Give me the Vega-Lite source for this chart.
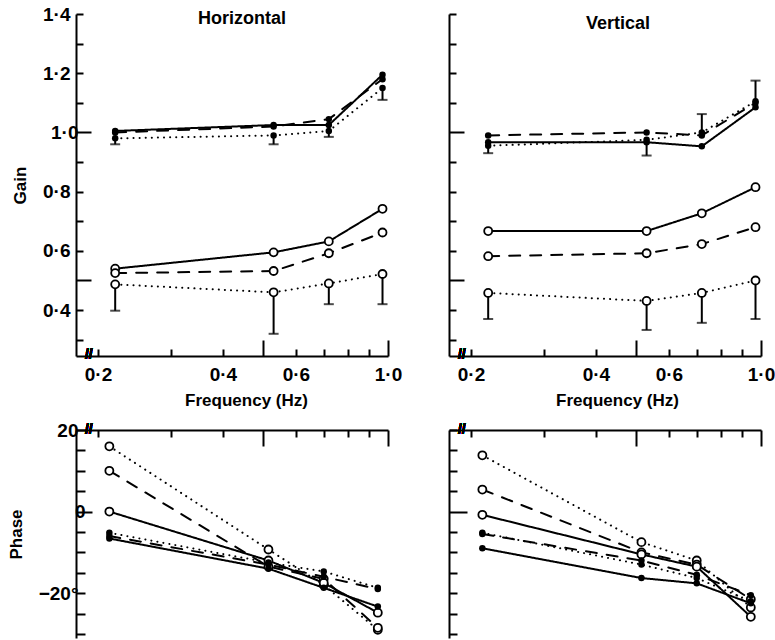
{
  "$schema": "https://vega.github.io/schema/vega-lite/v6.json",
  "background": "white",
  "padding": {"left": 7, "top": 5, "right": 0, "bottom": 0},
  "columns": 2,
  "bounds": "flush",
  "spacing": {"row": 74, "column": 61},
  "config": {
    "view": {"stroke": null},
    "font": "Liberation Sans",
    "axis": {
      "grid": false,
      "domainColor": "black",
      "domainWidth": 2,
      "tickColor": "black",
      "tickWidth": 2,
      "labelFont": "Liberation Sans",
      "labelFontWeight": "bold",
      "labelFontSize": 19,
      "labelColor": "black",
      "labelFlush": false,
      "labelOverlap": false,
      "titleFont": "Liberation Sans",
      "titleFontWeight": "bold",
      "titleFontSize": 17,
      "titleColor": "black"
    },
    "title": {"font": "Liberation Sans", "fontWeight": "bold", "fontSize": 18, "color": "black"}
  },
  "datasets": {
    "gain": [
      {"dir": "Horizontal", "marker": "filled", "line": "solid", "freq": 0.22, "gain": 1.005},
      {"dir": "Horizontal", "marker": "filled", "line": "solid", "freq": 0.53, "gain": 1.025},
      {"dir": "Horizontal", "marker": "filled", "line": "solid", "freq": 0.72, "gain": 1.025},
      {"dir": "Horizontal", "marker": "filled", "line": "solid", "freq": 0.97, "gain": 1.195},
      {"dir": "Horizontal", "marker": "filled", "line": "dashed", "freq": 0.22, "gain": 1.0},
      {"dir": "Horizontal", "marker": "filled", "line": "dashed", "freq": 0.53, "gain": 1.02},
      {"dir": "Horizontal", "marker": "filled", "line": "dashed", "freq": 0.72, "gain": 1.045},
      {"dir": "Horizontal", "marker": "filled", "line": "dashed", "freq": 0.97, "gain": 1.18},
      {"dir": "Horizontal", "marker": "filled", "line": "dotted", "freq": 0.22, "gain": 0.98, "lo": 0.96},
      {"dir": "Horizontal", "marker": "filled", "line": "dotted", "freq": 0.53, "gain": 0.99, "lo": 0.96},
      {"dir": "Horizontal", "marker": "filled", "line": "dotted", "freq": 0.72, "gain": 1.005, "lo": 0.985},
      {"dir": "Horizontal", "marker": "filled", "line": "dotted", "freq": 0.97, "gain": 1.15, "lo": 1.11},
      {"dir": "Horizontal", "marker": "open", "line": "solid", "freq": 0.22, "gain": 0.54},
      {"dir": "Horizontal", "marker": "open", "line": "solid", "freq": 0.53, "gain": 0.595},
      {"dir": "Horizontal", "marker": "open", "line": "solid", "freq": 0.72, "gain": 0.632},
      {"dir": "Horizontal", "marker": "open", "line": "solid", "freq": 0.97, "gain": 0.742},
      {"dir": "Horizontal", "marker": "open", "line": "dashed", "freq": 0.22, "gain": 0.525},
      {"dir": "Horizontal", "marker": "open", "line": "dashed", "freq": 0.53, "gain": 0.532},
      {"dir": "Horizontal", "marker": "open", "line": "dashed", "freq": 0.72, "gain": 0.592},
      {"dir": "Horizontal", "marker": "open", "line": "dashed", "freq": 0.97, "gain": 0.662},
      {"dir": "Horizontal", "marker": "open", "line": "dotted", "freq": 0.22, "gain": 0.487, "lo": 0.398},
      {"dir": "Horizontal", "marker": "open", "line": "dotted", "freq": 0.53, "gain": 0.46, "lo": 0.32},
      {"dir": "Horizontal", "marker": "open", "line": "dotted", "freq": 0.72, "gain": 0.49, "lo": 0.42},
      {"dir": "Horizontal", "marker": "open", "line": "dotted", "freq": 0.97, "gain": 0.522, "lo": 0.42},
      {"dir": "Vertical", "marker": "filled", "line": "solid", "freq": 0.22, "gain": 0.967},
      {"dir": "Vertical", "marker": "filled", "line": "solid", "freq": 0.53, "gain": 0.967},
      {"dir": "Vertical", "marker": "filled", "line": "solid", "freq": 0.72, "gain": 0.953},
      {"dir": "Vertical", "marker": "filled", "line": "solid", "freq": 0.97, "gain": 1.085},
      {"dir": "Vertical", "marker": "filled", "line": "dashed", "freq": 0.22, "gain": 0.99},
      {"dir": "Vertical", "marker": "filled", "line": "dashed", "freq": 0.53, "gain": 1.0},
      {"dir": "Vertical", "marker": "filled", "line": "dashed", "freq": 0.72, "gain": 0.99},
      {"dir": "Vertical", "marker": "filled", "line": "dashed", "freq": 0.97, "gain": 1.1},
      {"dir": "Vertical", "marker": "filled", "line": "dotted", "freq": 0.22, "gain": 0.955, "lo": 0.93},
      {"dir": "Vertical", "marker": "filled", "line": "dotted", "freq": 0.53, "gain": 0.975, "lo": 0.922},
      {"dir": "Vertical", "marker": "filled", "line": "dotted", "freq": 0.72, "gain": 1.0, "lo": 1.062},
      {"dir": "Vertical", "marker": "filled", "line": "dotted", "freq": 0.97, "gain": 1.105, "lo": 1.175},
      {"dir": "Vertical", "marker": "open", "line": "solid", "freq": 0.22, "gain": 0.667},
      {"dir": "Vertical", "marker": "open", "line": "solid", "freq": 0.53, "gain": 0.667},
      {"dir": "Vertical", "marker": "open", "line": "solid", "freq": 0.72, "gain": 0.727},
      {"dir": "Vertical", "marker": "open", "line": "solid", "freq": 0.97, "gain": 0.815},
      {"dir": "Vertical", "marker": "open", "line": "dashed", "freq": 0.22, "gain": 0.582},
      {"dir": "Vertical", "marker": "open", "line": "dashed", "freq": 0.53, "gain": 0.592},
      {"dir": "Vertical", "marker": "open", "line": "dashed", "freq": 0.72, "gain": 0.623},
      {"dir": "Vertical", "marker": "open", "line": "dashed", "freq": 0.97, "gain": 0.68},
      {"dir": "Vertical", "marker": "open", "line": "dotted", "freq": 0.22, "gain": 0.458, "lo": 0.37},
      {"dir": "Vertical", "marker": "open", "line": "dotted", "freq": 0.53, "gain": 0.431, "lo": 0.333},
      {"dir": "Vertical", "marker": "open", "line": "dotted", "freq": 0.72, "gain": 0.458, "lo": 0.357},
      {"dir": "Vertical", "marker": "open", "line": "dotted", "freq": 0.97, "gain": 0.5, "lo": 0.37}
    ],
    "phase": [
      {"dir": "Horizontal", "marker": "open", "line": "dotted", "freq": 0.213, "phase": 16},
      {"dir": "Horizontal", "marker": "open", "line": "dotted", "freq": 0.515, "phase": -9.3},
      {"dir": "Horizontal", "marker": "open", "line": "dotted", "freq": 0.7, "phase": -18},
      {"dir": "Horizontal", "marker": "open", "line": "dotted", "freq": 0.945, "phase": -29},
      {"dir": "Horizontal", "marker": "open", "line": "dashed", "freq": 0.213, "phase": 10},
      {"dir": "Horizontal", "marker": "open", "line": "dashed", "freq": 0.515, "phase": -13.5},
      {"dir": "Horizontal", "marker": "open", "line": "dashed", "freq": 0.7, "phase": -16.5},
      {"dir": "Horizontal", "marker": "open", "line": "dashed", "freq": 0.945, "phase": -28.5},
      {"dir": "Horizontal", "marker": "open", "line": "solid", "freq": 0.213, "phase": 0},
      {"dir": "Horizontal", "marker": "open", "line": "solid", "freq": 0.515, "phase": -12},
      {"dir": "Horizontal", "marker": "open", "line": "solid", "freq": 0.7, "phase": -17.5},
      {"dir": "Horizontal", "marker": "open", "line": "solid", "freq": 0.945, "phase": -24.8},
      {"dir": "Horizontal", "marker": "filled", "line": "solid", "freq": 0.213, "phase": -6.6},
      {"dir": "Horizontal", "marker": "filled", "line": "solid", "freq": 0.515, "phase": -14},
      {"dir": "Horizontal", "marker": "filled", "line": "solid", "freq": 0.7, "phase": -18.7},
      {"dir": "Horizontal", "marker": "filled", "line": "solid", "freq": 0.945, "phase": -23.3},
      {"dir": "Horizontal", "marker": "filled", "line": "dotted", "freq": 0.213, "phase": -5.2},
      {"dir": "Horizontal", "marker": "filled", "line": "dotted", "freq": 0.515, "phase": -12.5},
      {"dir": "Horizontal", "marker": "filled", "line": "dotted", "freq": 0.7, "phase": -14.7},
      {"dir": "Horizontal", "marker": "filled", "line": "dotted", "freq": 0.945, "phase": -18.7},
      {"dir": "Horizontal", "marker": "filled", "line": "dashed", "freq": 0.213, "phase": -6},
      {"dir": "Horizontal", "marker": "filled", "line": "dashed", "freq": 0.515, "phase": -13},
      {"dir": "Horizontal", "marker": "filled", "line": "dashed", "freq": 0.7, "phase": -16},
      {"dir": "Horizontal", "marker": "filled", "line": "dashed", "freq": 0.945, "phase": -19},
      {"dir": "Vertical", "marker": "open", "line": "dotted", "freq": 0.213, "phase": 13.8},
      {"dir": "Vertical", "marker": "open", "line": "dotted", "freq": 0.515, "phase": -7.5},
      {"dir": "Vertical", "marker": "open", "line": "dotted", "freq": 0.7, "phase": -12},
      {"dir": "Vertical", "marker": "open", "line": "dotted", "freq": 0.945, "phase": -23.5},
      {"dir": "Vertical", "marker": "open", "line": "dashed", "freq": 0.213, "phase": 5.4},
      {"dir": "Vertical", "marker": "open", "line": "dashed", "freq": 0.515, "phase": -10},
      {"dir": "Vertical", "marker": "open", "line": "dashed", "freq": 0.7, "phase": -13},
      {"dir": "Vertical", "marker": "open", "line": "dashed", "freq": 0.945, "phase": -21.5},
      {"dir": "Vertical", "marker": "open", "line": "solid", "freq": 0.213, "phase": -0.8},
      {"dir": "Vertical", "marker": "open", "line": "solid", "freq": 0.515, "phase": -10.5},
      {"dir": "Vertical", "marker": "open", "line": "solid", "freq": 0.7, "phase": -13.5},
      {"dir": "Vertical", "marker": "open", "line": "solid", "freq": 0.945, "phase": -25.8},
      {"dir": "Vertical", "marker": "filled", "line": "dotted", "freq": 0.213, "phase": -5.2},
      {"dir": "Vertical", "marker": "filled", "line": "dotted", "freq": 0.515, "phase": -13},
      {"dir": "Vertical", "marker": "filled", "line": "dotted", "freq": 0.7, "phase": -16.3},
      {"dir": "Vertical", "marker": "filled", "line": "dotted", "freq": 0.945, "phase": -22},
      {"dir": "Vertical", "marker": "filled", "line": "dashed", "freq": 0.213, "phase": -5.5},
      {"dir": "Vertical", "marker": "filled", "line": "dashed", "freq": 0.515, "phase": -12},
      {"dir": "Vertical", "marker": "filled", "line": "dashed", "freq": 0.7, "phase": -15.5},
      {"dir": "Vertical", "marker": "filled", "line": "dashed", "freq": 0.945, "phase": -20.5},
      {"dir": "Vertical", "marker": "filled", "line": "solid", "freq": 0.213, "phase": -9},
      {"dir": "Vertical", "marker": "filled", "line": "solid", "freq": 0.515, "phase": -16.3},
      {"dir": "Vertical", "marker": "filled", "line": "solid", "freq": 0.7, "phase": -17.6},
      {"dir": "Vertical", "marker": "filled", "line": "solid", "freq": 0.945, "phase": -22.5}
    ]
  },
  "concat": [
    {
      "width": 312,
      "height": 342,
      "title": {"text": "Horizontal", "offset": -23, "dx": 10},
      "data": {"name": "gain"},
      "transform": [{"filter": "datum.dir === 'Horizontal'"}],
      "encoding": {
        "x": {
          "field": "freq", "type": "quantitative",
          "scale": {"type": "log", "domain": [0.177, 1.0], "nice": false},
          "axis": {
            "title": "Frequency (Hz)", "titlePadding": 8, "titleX": 170,
            "values": [0.2, 0.3, 0.4, 0.5, 0.6, 0.7, 0.8, 0.9, 1],
            "labelExpr": "indexof([0.2, 0.4, 0.6, 1], datum.value) >= 0 ? replace(format(datum.value, '.1f'), '.', '·') : ''",
            "tickSize": {"condition": {"test": "datum.value == 0.5 || datum.value == 1", "value": -16}, "value": -7},
            "labelPadding": {"condition": {"test": "datum.value == 1", "value": 25}, "value": 16}
          }
        },
        "y": {
          "field": "gain", "type": "quantitative",
          "scale": {"domain": [0.245, 1.4], "nice": false, "zero": false},
          "axis": {
            "title": "Gain", "titlePadding": 13,
            "values": [0.3, 0.4, 0.5, 0.6, 0.7, 0.8, 0.9, 1, 1.1, 1.2, 1.3, 1.4],
            "labelExpr": "indexof([0.4, 0.6, 0.8, 1, 1.2, 1.4], datum.value) >= 0 ? replace(format(datum.value, '.1f'), '.', '·') : ''",
            "tickSize": {"condition": {"test": "datum.value == 0.5 || datum.value == 1", "value": -15}, "value": -7},
            "labelPadding": 13
          }
        }
      },
      "layer": [
        {
          "mark": {"type": "line", "color": "black", "strokeCap": "round"},
          "encoding": {
            "strokeDash": {"field": "line", "type": "nominal", "scale": {"domain": ["solid", "dashed", "dotted"], "range": [[1, 0], [11, 10], [0.1, 6]]}, "legend": null},
            "strokeWidth": {"field": "line", "type": "nominal", "scale": {"domain": ["solid", "dashed", "dotted"], "range": [2, 2, 2.8]}, "legend": null},
            "detail": [{"field": "marker"}, {"field": "line"}]
          }
        },
        {
          "transform": [{"filter": "isValid(datum.lo)"}],
          "mark": {"type": "rule", "color": "black", "strokeWidth": 2},
          "encoding": {"y2": {"field": "lo"}}
        },
        {
          "transform": [{"filter": "isValid(datum.lo)"}],
          "mark": {"type": "tick", "orient": "horizontal", "color": "black", "size": 10, "thickness": 2},
          "encoding": {"y": {"field": "lo", "type": "quantitative"}}
        },
        {
          "transform": [{"filter": "datum.marker === 'open'"}],
          "mark": {"type": "point", "shape": "circle", "filled": false, "fill": "white", "stroke": "black", "strokeWidth": 1.8, "size": 64, "opacity": 1}
        },
        {
          "transform": [{"filter": "datum.marker === 'filled'"}],
          "mark": {"type": "circle", "color": "black", "size": 42, "opacity": 1}
        },
        {
          "mark": {"type": "text", "text": "//", "fontSize": 14, "fontWeight": "bold", "font": "Liberation Sans", "color": "black"},
          "encoding": {"x": {"datum": 0.19}, "y": {"datum": 0.248}}
        }
      ]
    },
    {
      "width": 312,
      "height": 342,
      "title": {"text": "Vertical", "offset": -20, "dx": 13},
      "data": {"name": "gain"},
      "transform": [{"filter": "datum.dir === 'Vertical'"}],
      "encoding": {
        "x": {
          "field": "freq", "type": "quantitative",
          "scale": {"type": "log", "domain": [0.177, 1.0], "nice": false},
          "axis": {
            "title": "Frequency (Hz)", "titlePadding": 8, "titleX": 168,
            "values": [0.2, 0.3, 0.4, 0.5, 0.6, 0.7, 0.8, 0.9, 1],
            "labelExpr": "indexof([0.2, 0.4, 0.6, 1], datum.value) >= 0 ? replace(format(datum.value, '.1f'), '.', '·') : ''",
            "tickSize": {"condition": {"test": "datum.value == 0.5 || datum.value == 1", "value": -16}, "value": -7},
            "labelPadding": {"condition": {"test": "datum.value == 1", "value": 25}, "value": 16}
          }
        },
        "y": {
          "field": "gain", "type": "quantitative",
          "scale": {"domain": [0.245, 1.4], "nice": false, "zero": false},
          "axis": {
            "title": null, "labels": false,
            "values": [0.3, 0.4, 0.5, 0.6, 0.7, 0.8, 0.9, 1, 1.1, 1.2, 1.3, 1.4],
            "tickSize": {"condition": {"test": "datum.value == 0.5 || datum.value == 1", "value": -15}, "value": -7}
          }
        }
      },
      "layer": [
        {
          "mark": {"type": "line", "color": "black", "strokeCap": "round"},
          "encoding": {
            "strokeDash": {"field": "line", "type": "nominal", "scale": {"domain": ["solid", "dashed", "dotted"], "range": [[1, 0], [11, 10], [0.1, 6]]}, "legend": null},
            "strokeWidth": {"field": "line", "type": "nominal", "scale": {"domain": ["solid", "dashed", "dotted"], "range": [2, 2, 2.8]}, "legend": null},
            "detail": [{"field": "marker"}, {"field": "line"}]
          }
        },
        {
          "transform": [{"filter": "isValid(datum.lo)"}],
          "mark": {"type": "rule", "color": "black", "strokeWidth": 2},
          "encoding": {"y2": {"field": "lo"}}
        },
        {
          "transform": [{"filter": "isValid(datum.lo)"}],
          "mark": {"type": "tick", "orient": "horizontal", "color": "black", "size": 10, "thickness": 2},
          "encoding": {"y": {"field": "lo", "type": "quantitative"}}
        },
        {
          "transform": [{"filter": "datum.marker === 'open'"}],
          "mark": {"type": "point", "shape": "circle", "filled": false, "fill": "white", "stroke": "black", "strokeWidth": 1.8, "size": 64, "opacity": 1}
        },
        {
          "transform": [{"filter": "datum.marker === 'filled'"}],
          "mark": {"type": "circle", "color": "black", "size": 42, "opacity": 1}
        },
        {
          "mark": {"type": "text", "text": "//", "fontSize": 14, "fontWeight": "bold", "font": "Liberation Sans", "color": "black"},
          "encoding": {"x": {"datum": 0.19}, "y": {"datum": 0.248}}
        }
      ]
    },
    {
      "width": 312,
      "height": 208,
      "data": {"name": "phase"},
      "transform": [{"filter": "datum.dir === 'Horizontal'"}],
      "encoding": {
        "x": {
          "field": "freq", "type": "quantitative",
          "scale": {"type": "log", "domain": [0.177, 1.0], "nice": false},
          "axis": {
            "orient": "top", "title": null, "labels": false,
            "values": [0.2, 0.3, 0.4, 0.5, 0.6, 0.7, 0.8, 0.9, 1],
            "tickSize": {"condition": {"test": "datum.value == 0.5 || datum.value == 1", "value": -16}, "value": -7}
          }
        },
        "y": {
          "field": "phase", "type": "quantitative",
          "scale": {"domain": [-31, 20], "nice": false, "zero": false},
          "axis": {
            "title": "Phase", "titlePadding": 13,
            "values": [-30, -25, -20, -15, -10, -5, 0, 5, 10, 15, 20],
            "labelExpr": "datum.value == 20 ? '20' : datum.value == 0 ? '0' : datum.value == -20 ? '−20°' : ''",
            "tickSize": {"condition": {"test": "datum.value == 0", "value": -16}, "value": -9},
            "labelPadding": 7
          }
        }
      },
      "layer": [
        {
          "mark": {"type": "line", "color": "black", "strokeCap": "round"},
          "encoding": {
            "strokeDash": {"field": "line", "type": "nominal", "scale": {"domain": ["solid", "dashed", "dotted"], "range": [[1, 0], [11, 10], [0.1, 6]]}, "legend": null},
            "strokeWidth": {"field": "line", "type": "nominal", "scale": {"domain": ["solid", "dashed", "dotted"], "range": [2, 2, 2.8]}, "legend": null},
            "detail": [{"field": "marker"}, {"field": "line"}]
          }
        },
        {
          "transform": [{"filter": "datum.marker === 'open'"}],
          "mark": {"type": "point", "shape": "circle", "filled": false, "fill": "white", "stroke": "black", "strokeWidth": 1.8, "size": 64, "opacity": 1}
        },
        {
          "transform": [{"filter": "datum.marker === 'filled'"}],
          "mark": {"type": "circle", "color": "black", "size": 42, "opacity": 1}
        },
        {
          "mark": {"type": "text", "text": "//", "fontSize": 14, "fontWeight": "bold", "font": "Liberation Sans", "color": "black"},
          "encoding": {"x": {"datum": 0.19}, "y": {"datum": 20}}
        }
      ]
    },
    {
      "width": 312,
      "height": 208,
      "data": {"name": "phase"},
      "transform": [{"filter": "datum.dir === 'Vertical'"}],
      "encoding": {
        "x": {
          "field": "freq", "type": "quantitative",
          "scale": {"type": "log", "domain": [0.177, 1.0], "nice": false},
          "axis": {
            "orient": "top", "title": null, "labels": false,
            "values": [0.2, 0.3, 0.4, 0.5, 0.6, 0.7, 0.8, 0.9, 1],
            "tickSize": {"condition": {"test": "datum.value == 0.5 || datum.value == 1", "value": -16}, "value": -7}
          }
        },
        "y": {
          "field": "phase", "type": "quantitative",
          "scale": {"domain": [-31, 20], "nice": false, "zero": false},
          "axis": {
            "title": null, "labels": false,
            "values": [-30, -25, -20, -15, -10, -5, 0, 5, 10, 15, 20],
            "tickSize": {"condition": {"test": "datum.value == 0", "value": -18}, "value": -8}
          }
        }
      },
      "layer": [
        {
          "mark": {"type": "line", "color": "black", "strokeCap": "round"},
          "encoding": {
            "strokeDash": {"field": "line", "type": "nominal", "scale": {"domain": ["solid", "dashed", "dotted"], "range": [[1, 0], [11, 10], [0.1, 6]]}, "legend": null},
            "strokeWidth": {"field": "line", "type": "nominal", "scale": {"domain": ["solid", "dashed", "dotted"], "range": [2, 2, 2.8]}, "legend": null},
            "detail": [{"field": "marker"}, {"field": "line"}]
          }
        },
        {
          "transform": [{"filter": "datum.marker === 'open'"}],
          "mark": {"type": "point", "shape": "circle", "filled": false, "fill": "white", "stroke": "black", "strokeWidth": 1.8, "size": 64, "opacity": 1}
        },
        {
          "transform": [{"filter": "datum.marker === 'filled'"}],
          "mark": {"type": "circle", "color": "black", "size": 42, "opacity": 1}
        },
        {
          "mark": {"type": "text", "text": "//", "fontSize": 14, "fontWeight": "bold", "font": "Liberation Sans", "color": "black"},
          "encoding": {"x": {"datum": 0.19}, "y": {"datum": 20}}
        }
      ]
    }
  ]
}
